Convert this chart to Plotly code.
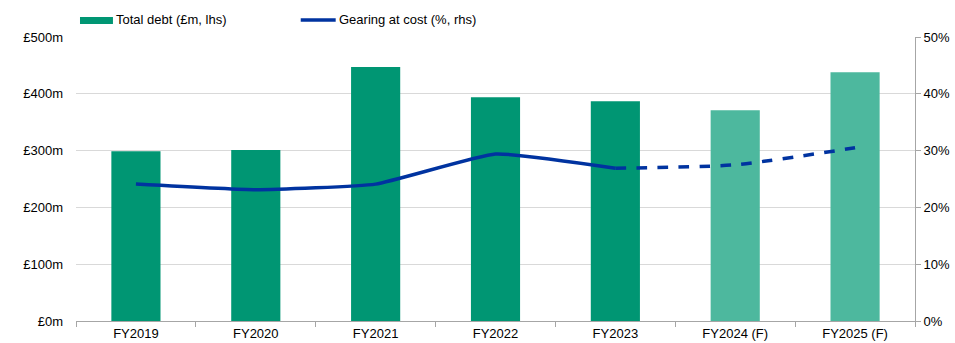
import plotly.graph_objects as go

categories = ["FY2019", "FY2020", "FY2021", "FY2022", "FY2023", "FY2024 (F)", "FY2025 (F)"]
total_debt = [299, 301, 447, 394, 387, 371, 438]
gearing = [24.1, 23.1, 24.1, 29.4, 26.9, 27.5, 30.5]
is_forecast = [False, False, False, False, False, True, True]
left_ticks = [0, 100, 200, 300, 400, 500]
left_labels = ["£0m", "£100m", "£200m", "£300m", "£400m", "£500m"]
right_ticks = [0, 10, 20, 30, 40, 50]
right_labels = ["0%", "10%", "20%", "30%", "40%", "50%"]

GREEN = "#009673"
GREEN_F = "#4DB89E"
BLUE = "#0033A0"
FONT = "Liberation Sans, Arial, sans-serif"
FS = 13

fig = go.Figure()
fig.add_trace(go.Bar(
    x=categories, y=total_debt,
    marker=dict(color=[GREEN_F if f else GREEN for f in is_forecast], line=dict(width=0)),
    width=0.41, name="Total debt (£m, lhs)", showlegend=False,
))

actual_idx = [i for i, f in enumerate(is_forecast) if not f]
last_actual = actual_idx[-1]
fig.add_trace(go.Scatter(
    x=categories[:last_actual + 1], y=gearing[:last_actual + 1], yaxis="y2",
    mode="lines", line=dict(color=BLUE, width=3.5, shape="spline", smoothing=0.4),
    name="Gearing at cost (%, rhs)", showlegend=False,
))
fig.add_trace(go.Scatter(
    x=categories[last_actual:], y=gearing[last_actual:], yaxis="y2",
    mode="lines", line=dict(color=BLUE, width=3.5, dash="dash", shape="spline", smoothing=0.6),
    showlegend=False,
))

# legend built from shapes and text
fig.add_shape(type="rect", xref="paper", yref="paper", x0=4 / 840, x1=37 / 840,
              y0=(321 - 17) / 284, y1=(321 - 24) / 284, fillcolor=GREEN, line=dict(width=0))
fig.add_annotation(xref="paper", yref="paper", x=38 / 840, y=(321 - 20) / 284, text="Total debt (£m, lhs)",
                   showarrow=False, xanchor="left", yanchor="middle", font=dict(size=FS, color="#000000", family=FONT))
fig.add_shape(type="line", xref="paper", yref="paper", x0=225 / 840, x1=260 / 840,
              y0=(321 - 20) / 284, y1=(321 - 20) / 284, line=dict(color=BLUE, width=3.5))
fig.add_annotation(xref="paper", yref="paper", x=261 / 840, y=(321 - 20) / 284, text="Gearing at cost (%, rhs)",
                   showarrow=False, xanchor="left", yanchor="middle", font=dict(size=FS, color="#000000", family=FONT))

fig.update_layout(
    width=955, height=343,
    margin=dict(l=76, r=40, t=37, b=22),
    paper_bgcolor="white", plot_bgcolor="white",
    font=dict(family=FONT, size=FS, color="#000000"),
    bargap=0.59,
    xaxis=dict(
        type="category", tickson="boundaries", ticks="outside", ticklen=5, tickcolor="#A6A6A6",
        showline=True, linecolor="#A6A6A6", linewidth=1, showgrid=False,
        tickfont=dict(size=FS), range=[-0.5, 6.5], automargin=False,
    ),
    yaxis=dict(
        range=[0, 500], tickvals=left_ticks, ticktext=left_labels,
        showgrid=True, gridcolor="#D9D9D9", gridwidth=1, zeroline=False,
        showline=False, ticks="", ticklabelstandoff=12, automargin=False,
    ),
    yaxis2=dict(
        range=[0, 50], tickvals=right_ticks, ticktext=right_labels,
        overlaying="y", side="right", showgrid=False, zeroline=False,
        showline=True, linecolor="#A6A6A6", linewidth=1,
        ticks="outside", ticklen=5, tickcolor="#A6A6A6", automargin=False,
    ),
)

fig.write_html("out.html")
